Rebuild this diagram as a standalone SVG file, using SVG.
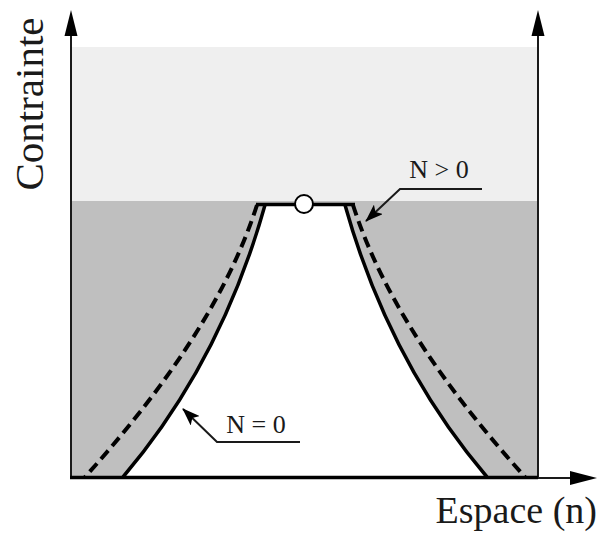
<svg xmlns="http://www.w3.org/2000/svg" width="599" height="534" viewBox="0 0 599 534">
<style>
text{font-family:"Liberation Serif","Times New Roman",serif;fill:#1a1a1a}
.axis{stroke:#1a1a1a;stroke-width:2;fill:none}
.solid{stroke:#000;stroke-width:3.5;fill:none}
.dash{stroke:#000;stroke-width:4;fill:none;stroke-dasharray:11 6}
.lead{stroke:#1a1a1a;stroke-width:2;fill:none}
</style>
<defs>
<marker id="ah" markerWidth="18" markerHeight="13" refX="17" refY="6.5" orient="auto" markerUnits="userSpaceOnUse">
<path d="M0,0 L18,6.5 L0,13 L4,6.5 Z" fill="#000"/>
</marker>
</defs>
<g id="background">
<rect x="72" y="47" width="465" height="154" fill="#efefef"/>
<rect x="72" y="201" width="465" height="277" fill="#bfbfbf"/>
</g>
<g id="region">
<path d="M265,205 C237,305 191,397 123,477 L487,477 C419,397 373,305 345,205 Z" fill="#fff"/>
</g>
<g id="curves">
<path class="dash" d="M257,205 C225,305 157,397 85,477"/>
<path class="dash" d="M353,205 C385,305 453,397 525,477"/>
<path class="solid" d="M265,205 C237,305 191,397 123,477"/>
<path class="solid" d="M345,205 C373,305 419,397 487,477"/>
<path class="solid" d="M256,204.5 L355,204.5"/>
</g>
<g id="point">
<circle cx="304" cy="204" r="9" fill="#fff" stroke="#000" stroke-width="2"/>
</g>
<g id="axes">
<line class="axis" x1="71" y1="478" x2="71" y2="34"/>
<polygon points="71,10 64.5,36 77.5,36" fill="#000"/>
<line class="axis" x1="538" y1="478" x2="538" y2="34"/>
<polygon points="538,10 531.5,36 544.5,36" fill="#000"/>
<line x1="70" y1="477.5" x2="538" y2="477.5" stroke="#000" stroke-width="3.5"/>
<line class="axis" x1="538" y1="478" x2="572" y2="478"/>
<polygon points="597,478 570,471 570,485" fill="#000"/>
</g>
<g id="label-contrainte">
<text x="0" y="0" font-size="41" text-anchor="middle" transform="translate(43,104) rotate(-90)">Contrainte</text>
</g>
<g id="label-espace">
<text x="597" y="523" font-size="38" text-anchor="end">Espace (n)</text>
</g>
<g id="label-npos">
<text x="439" y="178" font-size="26" text-anchor="middle">N &gt; 0</text>
</g>
<g id="label-nzero">
<text x="256" y="433" font-size="26" text-anchor="middle">N = 0</text>
</g>
<g id="connectors">
<path class="lead" d="M482,189 L400,189 L366,221" marker-end="url(#ah)"/>
<path class="lead" d="M300,442 L217,442 L183,409" marker-end="url(#ah)"/>
</g>
</svg>
